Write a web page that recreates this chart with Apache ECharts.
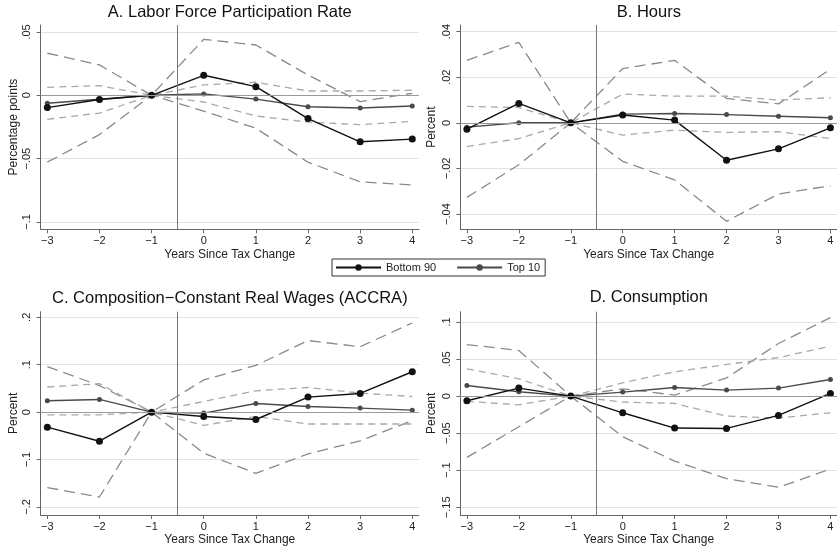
<!DOCTYPE html>
<html>
<head>
<meta charset="utf-8">
<script src="https://cdn.jsdelivr.net/npm/echarts@6/dist/echarts.min.js"></script>
<style>
  html, body { margin: 0; padding: 0; background: #fff; }
  #main { width: 837px; height: 550px; }
</style>
</head>
<body>
<div id="main"></div>
<script>
// years relative to the tax change
const years = [-3, -2, -1, 0, 1, 2, 3, 4];

// A. labor force participation
const lfpBottom = [-0.0097, -0.0033, 0, 0.0158, 0.0068, -0.0184, -0.0367, -0.0346];
const lfpTop = [-0.0063, -0.0031, 0, 0.0011, -0.0030, -0.0090, -0.0100, -0.0084];
const lfpBottomHi = [0.0332, 0.0240, 0, 0.0442, 0.0397, 0.0160, -0.0050, 0.0016];
const lfpBottomLo = [-0.0528, -0.0310, 0, -0.0125, -0.0260, -0.0528, -0.0683, -0.0708];
const lfpTopHi = [0.0063, 0.0076, 0, 0.0082, 0.0103, 0.0034, 0.0034, 0.0040];
const lfpTopLo = [-0.0190, -0.0140, 0, -0.0053, -0.0163, -0.0212, -0.0232, -0.0206];

// B. hours
const hrsBottom = [-0.0028, 0.0085, 0, 0.0034, 0.0012, -0.0164, -0.0114, -0.0022];
const hrsTop = [-0.0019, 0.0000, 0, 0.0038, 0.0041, 0.0036, 0.0029, 0.0022];
const hrsBottomHi = [0.0274, 0.0353, 0, 0.0238, 0.0274, 0.0107, 0.0083, 0.0235];
const hrsBottomLo = [-0.0327, -0.0184, 0, -0.0169, -0.0250, -0.0432, -0.0312, -0.0276];
const hrsTopHi = [0.0072, 0.0067, 0, 0.0126, 0.0117, 0.0117, 0.0100, 0.0110];
const hrsTopLo = [-0.0104, -0.0069, 0, -0.0054, -0.0032, -0.0042, -0.0039, -0.0069];

// C. real wages
const wageBottom = [-0.0317, -0.0613, 0, -0.0092, -0.0155, 0.0317, 0.0394, 0.0852];
const wageTop = [0.0240, 0.0268, 0, -0.0020, 0.0183, 0.0120, 0.0085, 0.0042];
const wageBottomHi = [0.0960, 0.0560, 0, 0.0680, 0.0985, 0.1510, 0.1380, 0.1880];
const wageBottomLo = [-0.1590, -0.1790, 0, -0.0866, -0.1290, -0.0880, -0.0606, -0.0176];
const wageTopHi = [0.0530, 0.0600, 0, 0.0225, 0.0450, 0.0520, 0.0400, 0.0330];
const wageTopLo = [-0.0056, -0.0056, 0, -0.0280, -0.0090, -0.0250, -0.0250, -0.0250];

// D. consumption
const consBottom = [-0.0063, 0.0108, 0, -0.0225, -0.0431, -0.0436, -0.0260, 0.0036];
const consTop = [0.0144, 0.0058, 0, 0.0054, 0.0117, 0.0081, 0.0108, 0.0225];
const consBottomHi = [0.0696, 0.0616, 0, 0.0098, 0.0014, 0.0245, 0.0710, 0.1060];
const consBottomLo = [-0.0827, -0.0413, 0, -0.0548, -0.0876, -0.1114, -0.1230, -0.0984];
const consTopHi = [0.0368, 0.0234, 0, 0.0180, 0.0328, 0.0427, 0.0520, 0.0674];
const consTopLo = [-0.0072, -0.0117, 0, -0.0080, -0.0099, -0.0270, -0.0297, -0.0225];

// tick labels
const lfpTicks = [-0.1, -0.05, 0, 0.05];
const hrsTicks = [-0.04, -0.02, 0, 0.02, 0.04];
const wageTicks = [-0.2, -0.1, 0, 0.1, 0.2];
const consTicks = [-0.15, -0.1, -0.05, 0, 0.05, 0.1];

const FONT = '"Liberation Sans", Arial, sans-serif';

const panels = [
  { title: 'A. Labor Force Participation Rate', yName: 'Percentage points', ticks: lfpTicks, nameGap: 21,
    min: -0.1058, max: 0.0555, grid: { left: 40.7, top: 25, width: 378.2, height: 204.3 }, titleY: 12.5,
    data: [lfpBottom, lfpTop, lfpBottomHi, lfpBottomLo, lfpTopHi, lfpTopLo] },
  { title: 'B. Hours', yName: 'Percent', ticks: hrsTicks, nameGap: 23,
    min: -0.0467, max: 0.0429, grid: { left: 460.3, top: 25, width: 377, height: 204.3 }, titleY: 12.5,
    data: [hrsBottom, hrsTop, hrsBottomHi, hrsBottomLo, hrsTopHi, hrsTopLo] },
  { title: 'C. Composition\u2212Constant Real Wages (ACCRA)', yName: 'Percent', ticks: wageTicks, nameGap: 21,
    min: -0.2169, max: 0.2118, grid: { left: 40.7, top: 311.7, width: 378.2, height: 203.3 }, titleY: 298,
    data: [wageBottom, wageTop, wageBottomHi, wageBottomLo, wageTopHi, wageTopLo] },
  { title: 'D. Consumption', yName: 'Percent', ticks: consTicks, nameGap: 23,
    min: -0.1604, max: 0.1139, grid: { left: 460.3, top: 311.7, width: 377, height: 203.3 }, titleY: 297,
    data: [consBottom, consTop, consBottomHi, consBottomLo, consTopHi, consTopLo] }
];

// Stata style numbers: .05, -.1 with a real minus sign
function fmtY(v) {
  let s = String(+v.toFixed(4));
  if (s === '0') return '0';
  const neg = s[0] === '-';
  s = s.replace('-', '');
  if (s.indexOf('0.') === 0) s = s.slice(1);
  return (neg ? '\u2212' : '') + s;
}
function fmtX(v) {
  return v < 0 ? '\u2212' + (-v) : String(v);
}

const pairs = arr => years.map((x, i) => [x, arr[i]]);

const grids = [], xAxes = [], yAxes = [], series = [], texts = [];

panels.forEach((p, i) => {
  grids.push(Object.assign({ containLabel: false }, p.grid));
  xAxes.push({
    type: 'value', gridIndex: i, min: -3.127, max: 4.127,
    name: 'Years Since Tax Change', nameLocation: 'middle', nameGap: 19,
    nameTextStyle: { fontFamily: FONT, fontSize: 12, color: '#222' },
    axisLine: { onZero: false, lineStyle: { color: '#666', width: 1 } },
    axisTick: { show: true, length: 4, customValues: years, lineStyle: { color: '#666' } },
    axisLabel: { customValues: years, formatter: fmtX, margin: 6, fontFamily: FONT, fontSize: 11, color: '#222' },
    splitLine: { show: false }
  });
  yAxes.push({
    type: 'value', gridIndex: i, min: p.min, max: p.max,
    name: p.yName, nameLocation: 'middle', nameGap: p.nameGap,
    nameTextStyle: { fontFamily: FONT, fontSize: 12, color: '#222' },
    axisLine: { show: true, onZero: false, lineStyle: { color: '#666', width: 1 } },
    axisTick: { show: true, length: 4, customValues: p.ticks, lineStyle: { color: '#666' } },
    axisLabel: { customValues: p.ticks, formatter: fmtY, rotate: 90, margin: 8, fontFamily: FONT, fontSize: 11, color: '#222' },
    splitLine: { show: true, lineStyle: { color: '#e2e2e2', width: 1 } }
  });

  const [bot, top, bHi, bLo, tHi, tLo] = p.data;
  const base = { type: 'line', xAxisIndex: i, yAxisIndex: i, silent: true, animation: false };
  const longDash = { color: '#8a8a8a', width: 1.3, type: [11, 6] };
  const shortDash = { color: '#a8a8a8', width: 1.3, type: [7, 5] };

  series.push(Object.assign({}, base, {
    name: 'Bottom 90 CI', data: pairs(bHi), symbol: 'none', lineStyle: longDash, z: 2,
    markLine: {
      silent: true, symbol: 'none', label: { show: false },
      data: [
        { yAxis: 0, lineStyle: { color: '#9a9a9a', width: 1.2, type: 'solid' } },
        { xAxis: -0.5, lineStyle: { color: '#777', width: 1, type: 'solid' } }
      ]
    }
  }));
  series.push(Object.assign({}, base, { name: 'Bottom 90 CI', data: pairs(bLo), symbol: 'none', lineStyle: longDash, z: 2 }));
  series.push(Object.assign({}, base, { name: 'Top 10 CI', data: pairs(tHi), symbol: 'none', lineStyle: shortDash, z: 2 }));
  series.push(Object.assign({}, base, { name: 'Top 10 CI', data: pairs(tLo), symbol: 'none', lineStyle: shortDash, z: 2 }));
  series.push(Object.assign({}, base, {
    name: 'Top 10', data: pairs(top), symbol: 'circle', symbolSize: 5,
    itemStyle: { color: '#4a4a4a' }, lineStyle: { color: '#4a4a4a', width: 1.4 }, z: 3
  }));
  series.push(Object.assign({}, base, {
    name: 'Bottom 90', data: pairs(bot), symbol: 'circle', symbolSize: 7,
    itemStyle: { color: '#111' }, lineStyle: { color: '#111', width: 1.4 }, z: 4
  }));

  texts.push({
    type: 'text', x: p.grid.left + p.grid.width / 2, y: p.titleY,
    style: { text: p.title, font: '16.5px ' + FONT, fill: '#111', align: 'center', verticalAlign: 'middle' }
  });
});

const chart = echarts.init(document.getElementById('main'), null, { renderer: 'canvas' });
chart.setOption({
  animation: false,
  backgroundColor: '#fff',
  grid: grids,
  xAxis: xAxes,
  yAxis: yAxes,
  series: series,
  graphic: texts,
  legend: {
    data: ['Bottom 90', 'Top 10'],
    left: 332, top: 259,
    padding: [3, 5, 3, 3],
    itemWidth: 45, itemHeight: 8, itemGap: 20,
    borderColor: '#333', borderWidth: 1, backgroundColor: '#fff',
    selectedMode: false,
    textStyle: { fontFamily: FONT, fontSize: 11, color: '#222' }
  }
});
</script>
</body>
</html>
